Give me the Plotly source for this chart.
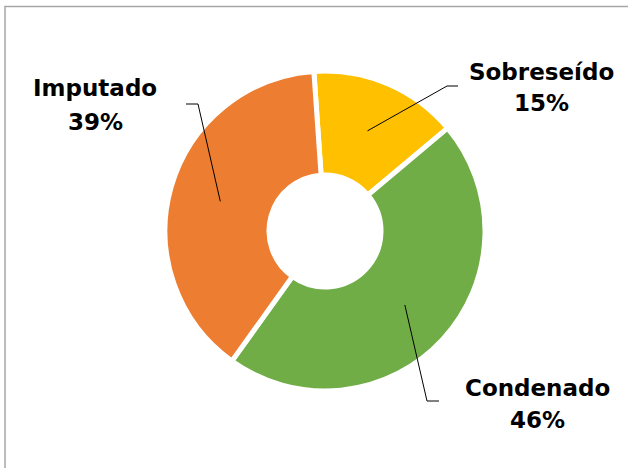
import math
import plotly.graph_objects as go

categorias = ["Sobreseído", "Condenado", "Imputado"]
porcentajes = [15, 46, 39]
colores = ["#FFC000", "#70AD47", "#ED7D31"]

W, H = 628, 468
cx_px, cy_px, r_px = 325, 231, 160
rotacion = -4

# label line centres, leader elbow and leader end (pixels)
etiquetas = {
    "Sobreseído": dict(x=541, y1=72, y2=103, elbow=(447, 86), end=(458, 86)),
    "Condenado": dict(x=537, y1=388, y2=420, elbow=(427, 401), end=(439, 401)),
    "Imputado": dict(x=95, y1=88, y2=122, elbow=(198, 104), end=(186, 104)),
}


def px(x, y):
    return x / W, 1 - y / H


fig = go.Figure(go.Pie(
    labels=categorias, values=porcentajes, sort=False, direction="clockwise",
    rotation=rotacion, hole=0.35, textinfo="none", hoverinfo="label+percent",
    marker=dict(colors=colores, line=dict(color="white", width=5)),
    domain=dict(x=[(cx_px - r_px) / W, (cx_px + r_px) / W],
                y=[1 - (cy_px + r_px) / H, 1 - (cy_px - r_px) / H]),
    showlegend=False,
))

font = dict(family="DejaVu Sans", size=23, color="#000000")
total = sum(porcentajes)
acum = 0
for cat, val in zip(categorias, porcentajes):
    mid = math.radians(rotacion + (acum + val / 2) / total * 360)
    acum += val
    ix = cx_px + 0.68 * r_px * math.sin(mid)
    iy = cy_px - 0.68 * r_px * math.cos(mid)
    e = etiquetas[cat]
    x0, y0 = px(ix, iy)
    x1, y1 = px(*e["elbow"])
    x2, y2 = px(*e["end"])
    fig.add_shape(type="path", xref="paper", yref="paper",
                  path=f"M {x0} {y0} L {x1} {y1} L {x2} {y2}",
                  line=dict(color="black", width=1))
    for linea, ty in ((cat, e["y1"]), (f"{round(val / total * 100)}%", e["y2"])):
        ax_, ay_ = px(e["x"], ty)
        fig.add_annotation(x=ax_, y=ay_, xref="paper", yref="paper", showarrow=False,
                           xanchor="center", yanchor="middle",
                           text=f"<b>{linea}</b>", font=font)

# chart frame
fig.add_shape(type="rect", xref="paper", yref="paper",
              x0=5 / W, y0=-0.05, x1=1.05, y1=1 - 6.5 / H,
              line=dict(color="#a6a6a6", width=1.5))

fig.update_layout(width=W, height=H, margin=dict(l=0, r=0, t=0, b=0),
                  paper_bgcolor="white", plot_bgcolor="white")
fig.write_html("out.html", config={"displayModeBar": False},
               post_script="document.body.style.margin='0';")
